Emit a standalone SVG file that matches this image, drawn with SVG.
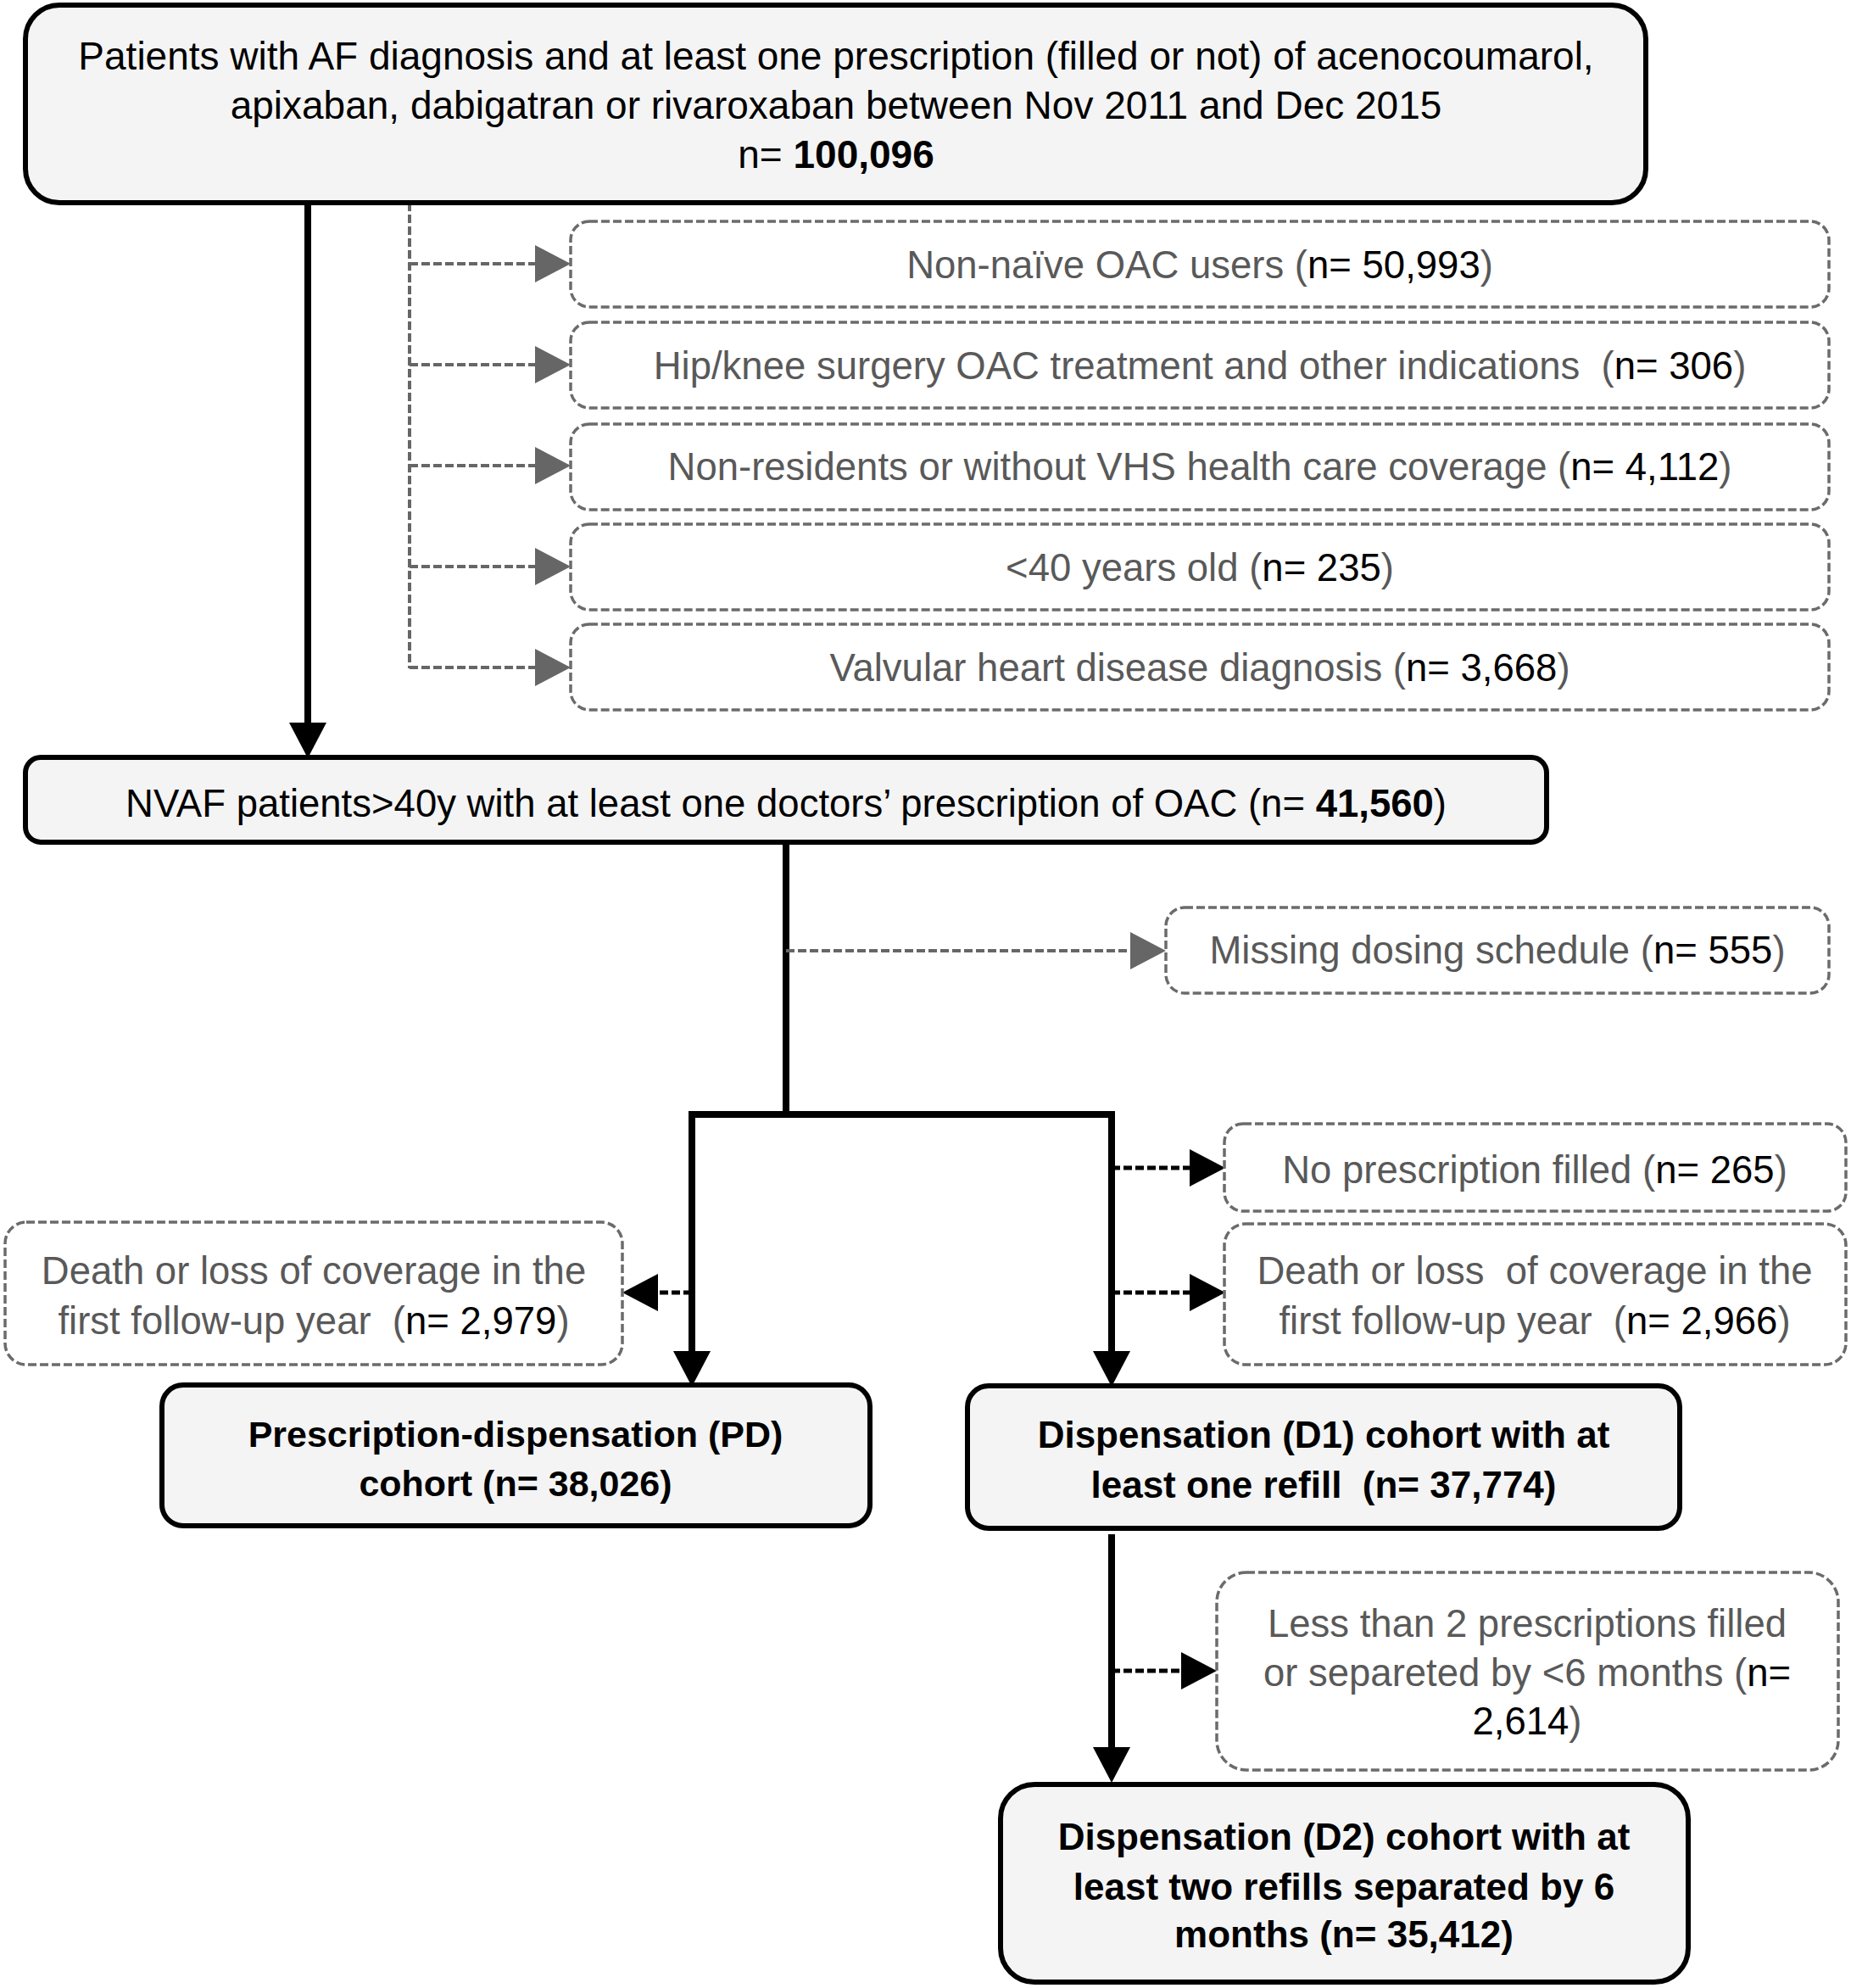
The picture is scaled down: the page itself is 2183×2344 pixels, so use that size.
<svg xmlns="http://www.w3.org/2000/svg" width="2183" height="2344" viewBox="0 0 2183 2344">
<style>
text{font-family:"Liberation Sans",Arial,sans-serif;font-size:45.5px;text-anchor:middle;}
.top{font-size:46px;}
.t{fill:#000;}
.g{fill:#595959;}
.k{fill:#000;}
.b{font-weight:bold;font-size:44px;}
.main{fill:#f4f4f4;stroke:#000;stroke-width:6;}
.exc{fill:#fff;stroke:#6b6b6b;stroke-width:3.5;stroke-dasharray:10 4;}
.solid{fill:none;stroke:#000;stroke-width:8;}
.gd{fill:none;stroke:#666;stroke-width:4;stroke-dasharray:10 4;}
.kd{fill:none;stroke:#000;stroke-width:5;stroke-dasharray:10 4;}
</style>
<defs>
<marker id="ab" markerUnits="userSpaceOnUse" markerWidth="42" markerHeight="44" refX="0" refY="22" orient="auto"><path d="M0,0 L42,22 L0,44 z" fill="#000"/></marker>
<marker id="ag" markerUnits="userSpaceOnUse" markerWidth="42" markerHeight="44" refX="0" refY="22" orient="auto"><path d="M0,0 L42,22 L0,44 z" fill="#666"/></marker>
</defs>
<rect width="2183" height="2344" fill="#fff"/>
<g id="connectors">
<path class="solid" d="M363,239 V852" marker-end="url(#ab)"/>
<path class="gd" d="M483,239 V788"/>
<path class="gd" d="M483,311 H631" marker-end="url(#ag)"/>
<path class="gd" d="M483,430 H631" marker-end="url(#ag)"/>
<path class="gd" d="M483,549 H631" marker-end="url(#ag)"/>
<path class="gd" d="M483,668 H631" marker-end="url(#ag)"/>
<path class="gd" d="M483,787 H631" marker-end="url(#ag)"/>
<path class="solid" d="M927,993 V1314"/>
<path class="gd" d="M927,1121 H1333" marker-end="url(#ag)"/>
<path class="solid" d="M812,1314 H1315"/>
<path class="solid" d="M816,1314 V1593" marker-end="url(#ab)"/>
<path class="solid" d="M1311,1314 V1593" marker-end="url(#ab)"/>
<path class="kd" d="M1311,1377 H1403" marker-end="url(#ab)"/>
<path class="kd" d="M1311,1524 H1403" marker-end="url(#ab)"/>
<path class="kd" d="M816,1524 H776" marker-end="url(#ab)"/>
<path class="solid" d="M1311,1809 V2060" marker-end="url(#ab)"/>
<path class="kd" d="M1311,1970 H1393" marker-end="url(#ab)"/>
</g>
<g id="n-all">
<rect class="main" x="30" y="6" width="1911" height="233" rx="40"/>
<text class="t top" x="986" y="82">Patients with AF diagnosis and at least one prescription (filled or not) of acenocoumarol,</text>
<text class="t top" x="986" y="140">apixaban, dabigatran or rivaroxaban between Nov 2011 and Dec 2015</text>
<text class="t top" x="986" y="198">n= <tspan font-weight="bold">100,096</tspan></text>
</g>
<g id="n-exc1">
<rect class="exc" x="673" y="261" width="1484" height="101" rx="22"/>
<text class="g" x="1415" y="328">Non-naïve OAC users (<tspan class="k">n= 50,993</tspan>)</text>
</g>
<g id="n-exc2">
<rect class="exc" x="673" y="380" width="1484" height="101" rx="22"/>
<text class="g" x="1415" y="447" xml:space="preserve">Hip/knee surgery OAC treatment and other indications  (<tspan class="k">n= 306</tspan>)</text>
</g>
<g id="n-exc3">
<rect class="exc" x="673" y="500" width="1484" height="101" rx="22"/>
<text class="g" x="1415" y="566">Non-residents or without VHS health care coverage (<tspan class="k">n= 4,112</tspan>)</text>
</g>
<g id="n-exc4">
<rect class="exc" x="673" y="618" width="1484" height="101" rx="22"/>
<text class="g" x="1415" y="685">&lt;40 years old (<tspan class="k">n= 235</tspan>)</text>
</g>
<g id="n-exc5">
<rect class="exc" x="673" y="736" width="1484" height="101" rx="22"/>
<text class="g" x="1415" y="803">Valvular heart disease diagnosis (<tspan class="k">n= 3,668</tspan>)</text>
</g>
<g id="n-nvaf">
<rect class="main" x="30" y="893" width="1794" height="100" rx="18"/>
<text class="t" x="927" y="963">NVAF patients&gt;40y with at least one doctors’ prescription of OAC (n= <tspan font-weight="bold">41,560</tspan>)</text>
</g>
<g id="n-missing">
<rect class="exc" x="1375" y="1070" width="782" height="101" rx="22"/>
<text class="g" x="1766" y="1136">Missing dosing schedule (<tspan class="k">n= 555</tspan>)</text>
</g>
<g id="n-nopresc">
<rect class="exc" x="1444" y="1325" width="733" height="103" rx="22"/>
<text class="g" x="1810" y="1395">No prescription filled (<tspan class="k">n= 265</tspan>)</text>
</g>
<g id="n-death-r">
<rect class="exc" x="1444" y="1443" width="733" height="166" rx="25"/>
<text class="g" x="1810" y="1514" xml:space="preserve">Death or loss  of coverage in the</text>
<text class="g" x="1810" y="1573" xml:space="preserve">first follow-up year  (<tspan class="k">n= 2,966</tspan>)</text>
</g>
<g id="n-death-l">
<rect class="exc" x="6" y="1441" width="728" height="168" rx="25"/>
<text class="g" x="370" y="1514">Death or loss of coverage in the</text>
<text class="g" x="370" y="1573" xml:space="preserve">first follow-up year  (<tspan class="k">n= 2,979</tspan>)</text>
</g>
<g id="n-pd">
<rect class="main" x="191" y="1633" width="835" height="166" rx="25"/>
<text class="t b" x="608" y="1706" style="font-size:43px">Prescription-dispensation (PD)</text>
<text class="t b" x="608" y="1764" style="font-size:43px">cohort (n= 38,026)</text>
</g>
<g id="n-d1">
<rect class="main" x="1141" y="1634" width="840" height="168" rx="25"/>
<text class="t b" x="1561" y="1707">Dispensation (D1) cohort with at</text>
<text class="t b" x="1561" y="1766" xml:space="preserve">least one refill  (n= 37,774)</text>
</g>
<g id="n-less2">
<rect class="exc" x="1435" y="1854" width="733" height="233" rx="35"/>
<text class="g" x="1801" y="1930">Less than 2 prescriptions filled</text>
<text class="g" x="1801" y="1988">or separeted by &lt;6 months (<tspan class="k">n=</tspan></text>
<text class="g" x="1801" y="2045"><tspan class="k">2,614</tspan>)</text>
</g>
<g id="n-d2">
<rect class="main" x="1180" y="2104" width="811" height="233" rx="40"/>
<text class="t b" x="1585" y="2181">Dispensation (D2) cohort with at</text>
<text class="t b" x="1585" y="2240">least two refills separated by 6</text>
<text class="t b" x="1585" y="2296">months (n= 35,412)</text>
</g>
</svg>
